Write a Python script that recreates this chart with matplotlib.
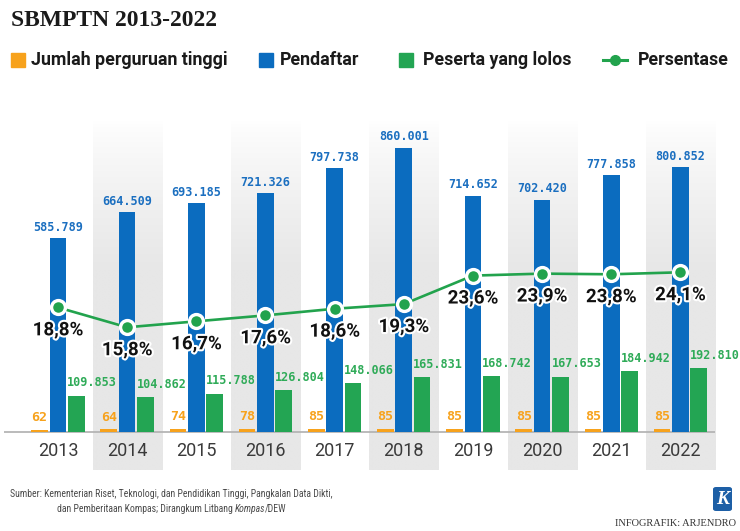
import matplotlib
matplotlib.use("Agg")
import matplotlib.pyplot as plt
import matplotlib.patheffects as pe
import numpy as np
from matplotlib.colors import LinearSegmentedColormap
from matplotlib.patches import Rectangle, FancyBboxPatch
from matplotlib.lines import Line2D

# data
tahun = ["2013", "2014", "2015", "2016", "2017", "2018", "2019", "2020", "2021", "2022"]
jumlah_pt = [62, 64, 74, 78, 85, 85, 85, 85, 85, 85]
pendaftar = [585789, 664509, 693185, 721326, 797738, 860001, 714652, 702420, 777858, 800852]
lolos = [109853, 104862, 115788, 126804, 148066, 165831, 168742, 167653, 184942, 192810]
persen = [18.8, 15.8, 16.7, 17.6, 18.6, 19.3, 23.6, 23.9, 23.8, 24.1]

ORANYE = "#f7a21c"
BIRU = "#0b6cbf"
HIJAU = "#23a553"
HIJAU_GARIS = "#22a34d"

W, H = 740, 531
fig = plt.figure(figsize=(W / 100, H / 100), dpi=100)
fig.patch.set_facecolor("white")

def fx(px):
    return px / W

def fy(py):
    return 1 - py / H

# axes: x dari px 4 sampai 715, y dari px 120 (atas) sampai 470 (bawah), garis dasar di px 432
left, right, top, bottom, base = 4, 715, 120, 470, 432
pos = [fx(left), fy(bottom), fx(right) - fx(left), fy(top) - fy(bottom)]
xlim = (-0.78, 9.5)

def mk_axes(px_per_unit):
    a = fig.add_axes(pos)
    a.set_xlim(*xlim)
    a.set_ylim(-(bottom - base) / px_per_unit, (base - top) / px_per_unit)
    a.axis("off")
    a.patch.set_alpha(0)
    return a

ax = mk_axes(284.5 / 860001)     # pendaftar & lolos
ax_pt = mk_axes(3.4 / 85)        # jumlah perguruan tinggi
ax_p = mk_axes(159.7 / 24.1)     # persentase

x = np.arange(len(tahun))
w = 0.24
off = 0.265

# latar belakang abu-abu bergradasi
y0, y1 = ax.get_ylim()
n = 300
pix = np.linspace(top, bottom, n)
t = np.clip((pix - top) / 150, 0, 1) ** 0.8
grad = t.reshape(-1, 1)
cmap = LinearSegmentedColormap.from_list("g", ["#ffffff", "#e7e7e7"])
for i in x[1::2]:
    ax.imshow(grad, extent=(i - 0.5, i + 0.5, y0, y1), cmap=cmap, vmin=0, vmax=1,
              aspect="auto", origin="upper", zorder=0, interpolation="bilinear")
ax.set_xlim(*xlim)
ax.set_ylim(y0, y1)

ax.axhline(0, color="#b5b5b5", lw=1.3, zorder=1)

ax.bar(x, pendaftar, width=w, color=BIRU, zorder=2)
ax.bar(x + off, lolos, width=w, color=HIJAU, zorder=2)
ax_pt.bar(x - off, jumlah_pt, width=w, color=ORANYE, zorder=2)

mono = "DejaVu Sans Mono"
for i in x:
    ax.annotate(f"{pendaftar[i]:,}".replace(",", "."), (i, pendaftar[i]), xytext=(0, 3),
                textcoords="offset points", ha="center", va="bottom",
                fontsize=8.5, fontweight="bold", family=mono, color="#1b6fc0")
    ax.annotate(f"{lolos[i]:,}".replace(",", "."), (i + off - w / 2, lolos[i]), xytext=(-0.5, 4.5),
                textcoords="offset points", ha="left", va="bottom",
                fontsize=8.5, fontweight="bold", family=mono, color="#2fab58")
    ax_pt.annotate(str(jumlah_pt[i]), (i - off, jumlah_pt[i]), xytext=(0, 4),
                   textcoords="offset points", ha="center", va="bottom",
                   fontsize=9.5, fontweight="bold", family=mono, color=ORANYE)
    ax.text(i, -57000, tahun[i], ha="center", va="center", fontsize=13,
            family=["Roboto", "DejaVu Sans"], color="#3a3a3a")

ax_p.plot(x, persen, color=HIJAU_GARIS, lw=1.9, marker="o", markersize=10,
          markerfacecolor=HIJAU_GARIS, markeredgecolor="white", markeredgewidth=2.4, zorder=4)
for i in x:
    ax_p.annotate(f"{persen[i]:.1f}%".replace(".", ","), (i, persen[i]), xytext=(0, -16.5),
                  textcoords="offset points", ha="center", va="center",
                  fontsize=13.5, fontweight="bold", family=["Roboto", "DejaVu Sans"], color="#111111",
                  path_effects=[pe.withStroke(linewidth=3, foreground="white")], zorder=5)

# judul
fig.text(fx(11), fy(21), "SBMPTN 2013-2022", fontsize=17, fontweight="bold",
         family=["Liberation Serif", "DejaVu Serif"], color="#1a1a1a", va="center", ha="left")

# legenda
leg_y = 60
leg_font = dict(fontsize=12.8, fontweight="bold", family=["Roboto", "DejaVu Sans"],
                color="#1a1a1a", va="center", ha="left")
for sx, col, txt, tx in [(11, ORANYE, "Jumlah perguruan tinggi", 31),
                         (259, BIRU, "Pendaftar", 280),
                         (399, HIJAU, "Peserta yang lolos", 423)]:
    fig.add_artist(Rectangle((fx(sx), fy(leg_y + 7)), fx(14), 14 / H, color=col,
                             transform=fig.transFigure))
    fig.text(fx(tx), fy(leg_y), txt, **leg_font)
fig.add_artist(Line2D([fx(603), fx(627)], [fy(leg_y), fy(leg_y)], color=HIJAU_GARIS, lw=2.2,
                      transform=fig.transFigure))
fig.add_artist(Line2D([fx(615)], [fy(leg_y)], marker="o", markersize=7, color=HIJAU_GARIS,
                      markeredgecolor=HIJAU_GARIS, transform=fig.transFigure))
fig.text(fx(638), fy(leg_y), "Persentase", **leg_font)

# sumber
src_font = dict(fontsize=7, family=["Roboto Condensed", "Roboto", "DejaVu Sans"],
                color="#4a4a4a", va="center", ha="left")
fig.text(fx(10), fy(494), "Sumber: Kementerian Riset, Teknologi, dan Pendidikan Tinggi, Pangkalan Data Dikti,",
         **src_font)
renderer = fig.canvas.get_renderer()
t1 = fig.text(fx(57), fy(509), "dan Pemberitaan Kompas; Dirangkum Litbang ", **src_font)
bb = t1.get_window_extent(renderer)
t2 = fig.text(bb.x1 / W, fy(509), "Kompas", style="italic", **src_font)
bb2 = t2.get_window_extent(renderer)
fig.text((bb2.x1 - 1) / W, fy(509), "/DEW", **src_font)

# logo
fig.add_artist(FancyBboxPatch((fx(713), fy(511)), fx(19), 24 / H,
                              boxstyle="round,pad=0,rounding_size=0.004",
                              facecolor="#1d5fa6", edgecolor="none", transform=fig.transFigure))
fig.text(fx(722.5), fy(499), "K", fontsize=14, fontweight="bold", style="italic",
         family=["Liberation Serif", "DejaVu Serif"], color="white", ha="center", va="center")
fig.text(fx(736), fy(523), "INFOGRAFIK: ARJENDRO", fontsize=7.5,
         family=["Liberation Serif", "DejaVu Serif"], color="#333333", ha="right", va="center")

fig.savefig("out.png", dpi=100)
